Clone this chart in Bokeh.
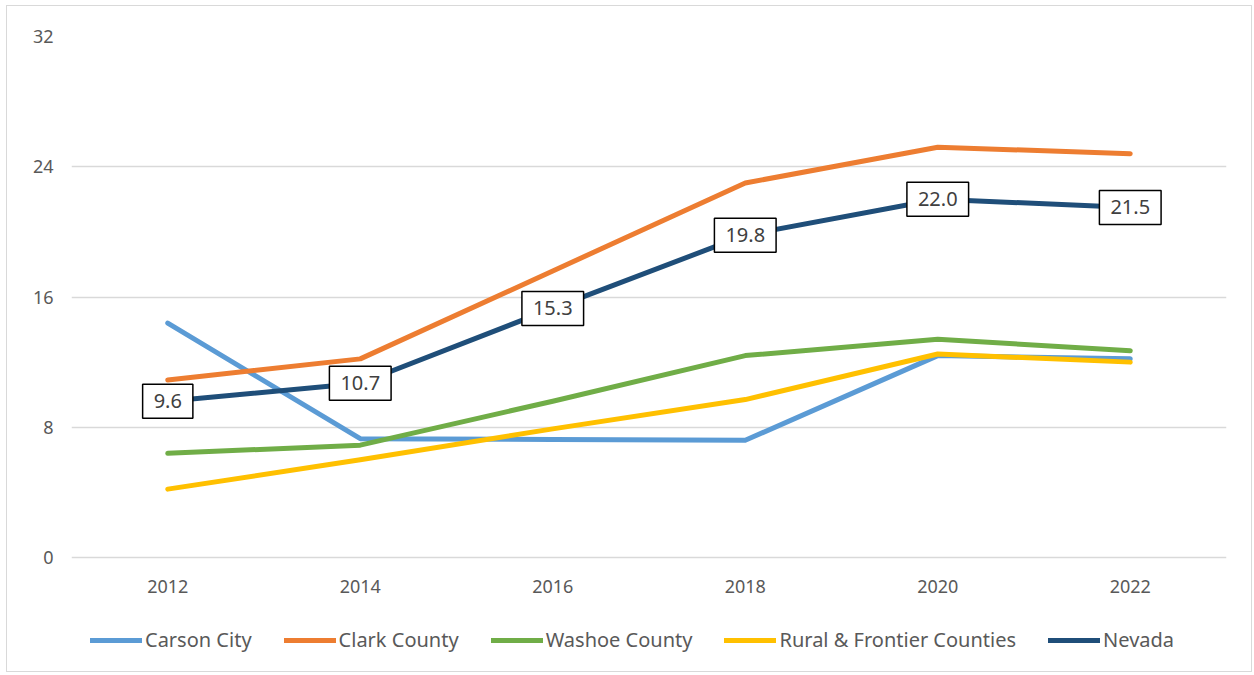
from bokeh.plotting import figure
from bokeh.models import ColumnDataSource, Legend, LegendItem, Range1d, FixedTicker
from bokeh.core.properties import value
from bokeh.embed import file_html
from bokeh.resources import INLINE

years = ["2012", "2014", "2016", "2018", "2020", "2022"]
carson = [14.4, 7.3, 7.25, 7.2, 12.4, 12.2]
clark = [10.9, 12.2, 17.6, 23.0, 25.2, 24.8]
washoe = [6.4, 6.9, 9.6, 12.4, 13.4, 12.7]
rural = [4.2, 6.0, 7.9, 9.7, 12.5, 12.0]
nevada = [9.6, 10.7, 15.3, 19.8, 22.0, 21.5]
y_ticks = [0, 8, 16, 24, 32]

series_names = ["Carson City", "Clark County", "Washoe County", "Rural & Frontier Counties", "Nevada"]
series_vals = [carson, clark, washoe, rural, nevada]
colors = ["#5B9BD5", "#ED7D31", "#70AD47", "#FFC000", "#1F4E79"]

FONT = "Noto Sans"
GRAY = "#595959"

# plot area: data 0..32 spans 521 px; frame extends below to hold the year labels and the legend
FRAME_H = 630
DATA_H = 521
y_top = y_ticks[-1]
y_start = -(FRAME_H - DATA_H) * y_top / DATA_H

p = figure(frame_width=1155, frame_height=FRAME_H, x_range=years, y_range=Range1d(y_start, y_top),
           output_backend="svg", toolbar_location=None,
           min_border_left=64, min_border_right=25, min_border_top=30, min_border_bottom=5)
p.styles = {"border": "1.5px solid #D9D9D9", "margin": "5px 0 0 6px"}
p.outline_line_color = None
p.background_fill_color = "white"
p.border_fill_color = "white"

p.xgrid.grid_line_color = None
p.ygrid.grid_line_color = "#D9D9D9"
p.ygrid.grid_line_width = 1.3
p.yaxis.ticker = FixedTicker(ticks=y_ticks)
p.yaxis.axis_line_color = None
p.yaxis.major_tick_line_color = None
p.yaxis.minor_tick_line_color = None
p.yaxis.major_label_text_font = FONT
p.yaxis.major_label_text_font_size = "18px"
p.yaxis.major_label_text_color = GRAY
p.yaxis.major_label_standoff = 12
p.xaxis.visible = False

# category (year) labels under the zero line
p.text(x=years, y=[0] * len(years), text=years, y_offset=29, text_align="center",
       text_baseline="middle", text_font=value(FONT), text_font_size="18px", text_color=GRAY)

items = []
for name, vals, col in zip(series_names, series_vals, colors):
    src = ColumnDataSource(dict(x=years, y=vals))
    r = p.line("x", "y", source=src, line_color=col, line_width=5, line_cap="round", line_join="round")
    items.append(LegendItem(label=name, renderers=[r]))

lab_src = ColumnDataSource(dict(x=years, y=nevada, t=["%.1f" % v for v in nevada]))
p.text("x", "y", text="t", source=lab_src, text_align="center", text_baseline="middle",
       text_font=value(FONT), text_font_size="20px", text_color="#404040",
       background_fill_color="white", border_line_color="black", border_line_width=1.5,
       padding=(11, 10))

legend = Legend(items=items, orientation="horizontal", location=(19, 13),
                glyph_width=52, glyph_height=20, spacing=32, label_standoff=3,
                label_text_font=FONT, label_text_font_size="20px", label_text_color=GRAY,
                border_line_color=None, background_fill_alpha=0, margin=0, padding=6)
p.add_layout(legend, "center")

open("out.html", "w").write(file_html(p, INLINE))
